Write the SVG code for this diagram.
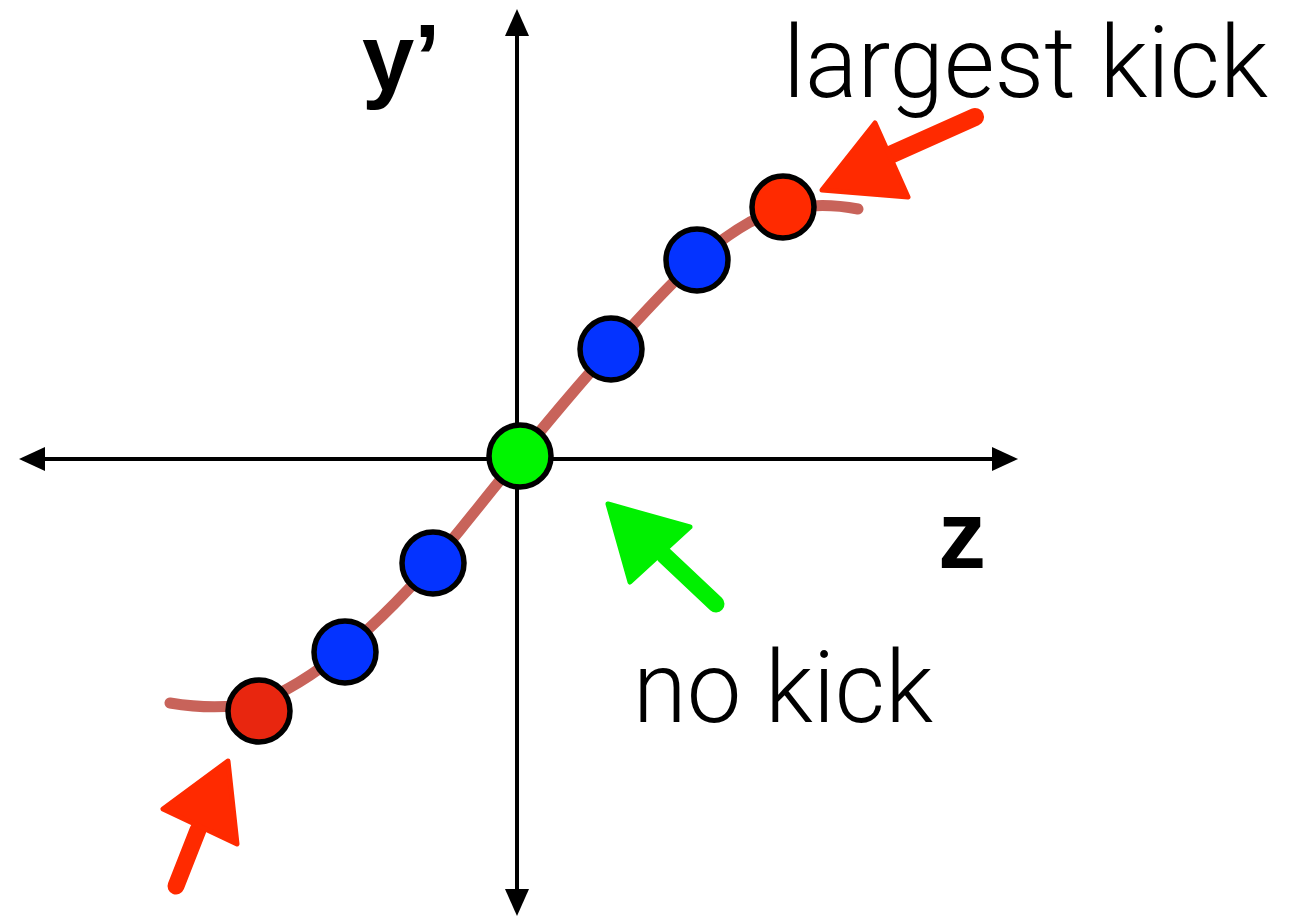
<svg xmlns="http://www.w3.org/2000/svg" width="1309" height="916" viewBox="0 0 1309 916">
<style>
.axis{stroke:#000;stroke-width:4;fill:none}
.head{fill:#000}
.dot{stroke:#000;stroke-width:5.5}
.lbl{font-family:"Liberation Sans",Arial,sans-serif;font-weight:bold;fill:#000}
.thin{font-family:Roboto,"Open Sans","Liberation Sans",sans-serif;font-weight:300;fill:#000}
</style>
<g id="connectors">
<line class="axis" x1="40" y1="459" x2="998" y2="459"/>
<polygon class="head" points="19,459 45,447 45,471"/>
<polygon class="head" points="1018,459 992,447 992,471"/>
<line class="axis" x1="517" y1="30" x2="517" y2="896"/>
<polygon class="head" points="517,9 505,36 529,36"/>
<polygon class="head" points="517,916 505,889 529,889"/>
<path id="curve" d="M170,703 Q225,712 265,700 C330,672 395,610 460,530 C510,468 560,405 611,349 C660,295 700,250 750,222 Q800,198 858,209" fill="none" stroke="#c8635a" stroke-width="11" stroke-linecap="round"/>
</g>
<g id="arrow-largest">
<line x1="975" y1="117" x2="890" y2="155" stroke="#ff2a00" stroke-width="18" stroke-linecap="round"/>
<polygon points="822,190 875,123 908,197" fill="#ff2a00" stroke="#ff2a00" stroke-width="5" stroke-linejoin="round"/>
</g>
<g id="arrow-low">
<line x1="198" y1="830" x2="176" y2="886" stroke="#ff2a00" stroke-width="17" stroke-linecap="round"/>
<polygon points="228,761 163,809 237,844" fill="#ff2a00" stroke="#ff2a00" stroke-width="5" stroke-linejoin="round"/>
</g>
<g id="arrow-nokick">
<line x1="664" y1="555" x2="716" y2="604" stroke="#00f000" stroke-width="17" stroke-linecap="round"/>
<polygon points="608,504 690,527 630,582" fill="#00f000" stroke="#00f000" stroke-width="5" stroke-linejoin="round"/>
</g>
<g id="dot-green"><circle class="dot" cx="520" cy="456" r="31" fill="#00f500"/></g>
<g id="dot-b1"><circle class="dot" cx="611" cy="349" r="31" fill="#0433ff"/></g>
<g id="dot-b2"><circle class="dot" cx="697" cy="260" r="31" fill="#0433ff"/></g>
<g id="dot-b3"><circle class="dot" cx="433" cy="563" r="31" fill="#0433ff"/></g>
<g id="dot-b4"><circle class="dot" cx="345" cy="652" r="31" fill="#0433ff"/></g>
<g id="dot-r1"><circle class="dot" cx="783" cy="207" r="31" fill="#ff2a00"/></g>
<g id="dot-r2"><circle class="dot" cx="259" cy="711" r="31" fill="#e8260f"/></g>
<g id="labels">
<text class="lbl" x="362" y="90" font-size="94">y’</text>
<text class="lbl" x="938" y="568" font-size="96">z</text>
<text class="thin" x="783" y="97" font-size="100" textLength="485" lengthAdjust="spacingAndGlyphs">largest kick</text>
<text class="thin" x="633" y="722" font-size="100" textLength="300" lengthAdjust="spacingAndGlyphs">no kick</text>
</g>
</svg>
